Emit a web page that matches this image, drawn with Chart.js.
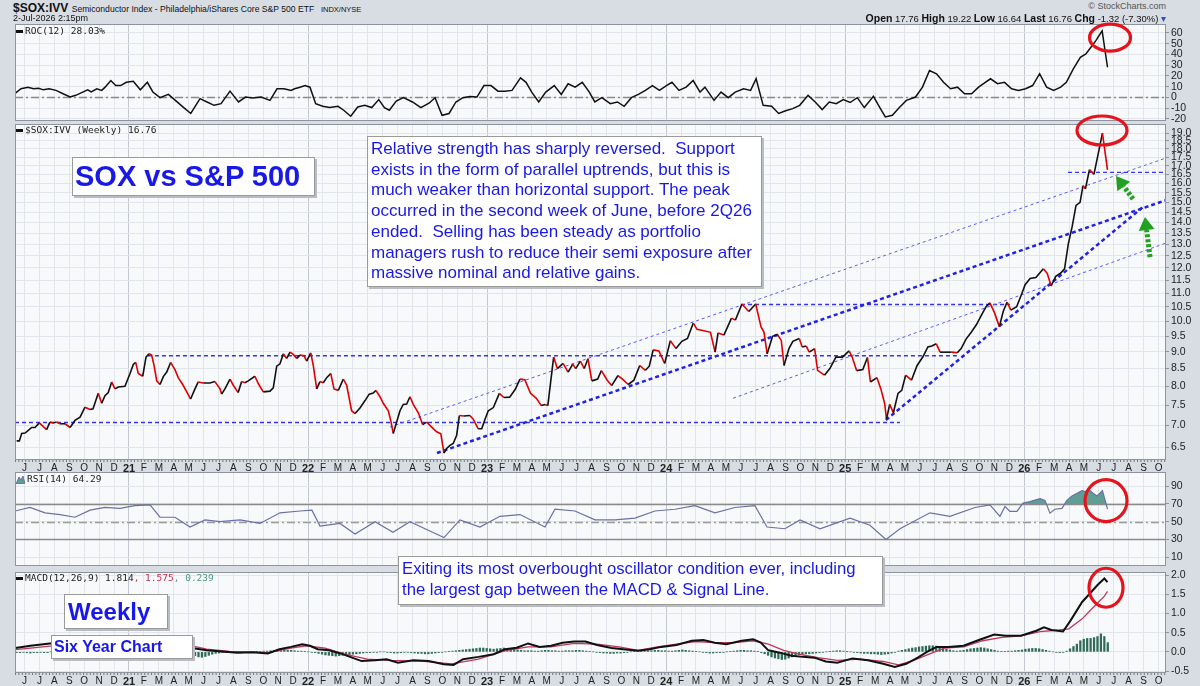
<!DOCTYPE html>
<html>
<head>
<meta charset="utf-8">
<script src="https://cdn.jsdelivr.net/npm/chart.js@4.4.1/dist/chart.umd.min.js"></script>
<style>
  body { margin: 0; background: #d8dce3; font-family: "Liberation Sans", Arial, sans-serif; }
  #wrap { position: relative; width: 1200px; height: 686px; overflow: hidden; }
  canvas { position: absolute; left: 0; }
  .txt { position: absolute; white-space: nowrap; color: #111; }
  .leg { position: absolute; white-space: nowrap; font: 9.5px "DejaVu Sans Mono", monospace; color: #222; line-height: 12px; }
  .mark { display: inline-block; width: 7px; height: 3px; background: #111; vertical-align: middle; margin-right: 2px; }
  .box { position: absolute; background: #fff; border: 1px solid #9a9a9a; box-shadow: 2px 2px 0 #b9bcc2; color: #1818e8; white-space: nowrap; }
</style>
</head>
<body>
<div id="wrap">
  <canvas id="roc" width="1200" height="105" style="top:20px"></canvas>
  <canvas id="main" width="1200" height="363" style="top:110px"></canvas>
  <canvas id="rsi" width="1200" height="94" style="top:472px"></canvas>
  <canvas id="macd" width="1200" height="126" style="top:560px"></canvas>

  <!-- header -->
  <div class="txt" style="left:13px;top:1px;font-size:12px;font-weight:bold;">$SOX:IVV <span style="font-weight:normal;font-size:8.6px">Semiconductor Index - Philadelphia/iShares Core S&amp;P 500 ETF</span>&nbsp; <span style="font-weight:normal;font-size:7.5px">INDX/NYSE</span></div>
  <div class="txt" style="left:13px;top:13px;font-size:9px;">2-Jul-2026 2:15pm</div>
  <div class="txt" style="right:34px;top:1px;font-size:9px;color:#555;">&copy; StockCharts.com</div>
  <div class="txt" style="right:34px;top:12px;font-size:9.5px;"><b style="font-size:10.5px">Open</b> 17.76 <b style="font-size:10.5px">High</b> 19.22 <b style="font-size:10.5px">Low</b> 16.64 <b style="font-size:10.5px">Last</b> 16.76 <b style="font-size:10.5px">Chg</b> -1.32 (-7.30%) <span style="color:#3050c0">&#9662;</span></div>

  <!-- panel legends -->
  <div class="leg" style="left:16px;top:25px;"><i class="mark"></i>ROC(12) 28.03%</div>
  <div class="leg" style="left:16px;top:124px;"><i class="mark"></i>$SOX:IVV (Weekly) 16.76</div>
  <div class="leg" style="left:16px;top:473px;"><svg width="9" height="9" style="vertical-align:middle;margin-right:2px"><polygon points="0,9 3,2 5,5 7,1 9,9" fill="#5f9e94" stroke="#6b70a6" stroke-width="1"/></svg>RSI(14) 64.29</div>
  <div class="leg" style="left:16px;top:572px;"><i class="mark"></i>MACD(12,26,9) 1.814<span style="color:#c0304e">, 1.575</span><span style="color:#4e9c86">, 0.239</span></div>

  <!-- annotations -->
  <div class="box" style="left:72px;top:157px;width:239px;height:37px;font-size:29px;font-weight:bold;line-height:37px;padding-left:2px;">SOX vs S&amp;P 500</div>
  <div class="box" style="left:367px;top:136px;width:387px;height:145px;font-size:17px;line-height:20.7px;padding:2px 3px;">Relative strength has sharply reversed.&nbsp; Support<br>exists in the form of parallel uptrends, but this is<br>much weaker than horizontal support. The peak<br>occurred in the second week of June, before 2Q26<br>ended.&nbsp; Selling has been steady as portfolio<br>managers rush to reduce their semi exposure after<br>massive nominal and relative gains.</div>
  <div class="box" style="left:398px;top:556px;width:477px;height:45px;font-size:16.7px;line-height:21px;padding:1px 3px;">Exiting its most overbought oscillator condition ever, including<br>the largest gap between the MACD &amp; Signal Line.</div>
  <div class="box" style="left:64px;top:594px;width:99px;height:33px;font-size:24px;font-weight:bold;line-height:33px;padding-left:3px;">Weekly</div>
  <div class="box" style="left:51px;top:635px;width:138px;height:22px;font-size:16px;font-weight:bold;line-height:22px;padding-left:2px;">Six Year Chart</div>
</div>

<script>
/* -----------------------------------------------------------
   DATA  (x = months since Jan 2020)
------------------------------------------------------------*/
const monthLetters = ["J", "F", "M", "A", "M", "J", "J", "A", "S", "O", "N", "D"];
const firstMonth = 5;   // first labelled month (Jun 2020)
const lastMonth = 81;   // last labelled month (Oct 2026)
const X_MIN = 4.36;
const X_MAX = 81.5;

// weekly SOX:IVV ratio
const priceX = [
  4.47, 4.65, 4.81, 5.03, 5.25, 5.48, 5.70, 5.99, 6.26, 6.48,
  6.70, 6.91, 7.15, 7.38, 7.71, 8.05, 8.38, 8.72, 9.05, 9.39,
  9.59, 9.94, 10.17, 10.39, 10.61, 10.84, 11.06, 11.28, 11.73, 12.07,
  12.29, 12.45, 12.62, 12.92, 13.14, 13.34, 13.52, 13.68, 13.86, 14.08,
  14.30, 14.53, 14.79, 15.08, 15.30, 15.60, 15.87, 16.13, 16.42, 16.64,
  16.98, 17.43, 17.76, 18.10, 18.21, 18.43, 18.77, 18.99, 19.32, 19.55,
  19.77, 19.99, 20.44, 20.67, 21.00, 21.45, 21.67, 21.90, 22.12, 22.34,
  22.57, 22.79, 23.01, 23.24, 23.46, 23.73, 23.91, 24.18, 24.35, 24.58,
  24.80, 25.02, 25.25, 25.52, 25.74, 26.03, 26.36, 26.59, 26.92, 27.15,
  27.48, 27.82, 28.10, 28.37, 28.55, 28.82, 29.04, 29.38, 29.54, 29.71,
  29.94, 30.16, 30.38, 30.61, 30.83, 31.05, 31.39, 31.68, 31.95, 32.29,
  32.62, 32.90, 33.11, 33.29, 33.51, 33.73, 33.96, 34.14, 34.45, 34.85,
  35.07, 35.41, 35.64, 35.86, 36.08, 36.42, 36.82, 37.12, 37.51, 37.89,
  38.20, 38.53, 38.91, 39.30, 39.63, 39.89, 40.07, 40.46, 40.71, 41.09,
  41.43, 41.74, 41.94, 42.25, 42.51, 42.76, 43.02, 43.41, 43.66, 44.05,
  44.35, 44.77, 45.07, 45.46, 45.84, 46.23, 46.61, 46.87, 47.13, 47.51,
  47.90, 48.28, 48.66, 49.05, 49.43, 49.82, 50.07, 50.46, 50.97, 51.28,
  51.48, 51.87, 52.38, 52.64, 53.08, 53.54, 54.00, 54.36, 54.56, 54.77,
  55.13, 55.46, 55.72, 55.90, 56.23, 56.49, 56.92, 57.12, 57.39, 57.59,
  57.95, 58.15, 58.61, 58.97, 59.38, 59.82, 60.26, 60.46, 60.77, 61.18,
  61.49, 61.69, 62.13, 62.39, 62.64, 62.77, 62.98, 63.23, 63.54, 63.79,
  64.05, 64.44, 64.82, 65.21, 65.54, 65.80, 66.11, 66.36, 66.74, 67.13,
  67.51, 67.77, 68.10, 68.46, 68.80, 69.13, 69.44, 69.70, 70.01, 70.33,
  70.59, 70.85, 71.10, 71.49, 71.80, 72.06, 72.39, 72.78, 73.28, 73.54,
  73.80, 74.11, 74.43, 74.70, 74.95, 75.21, 75.47, 75.74, 75.94, 76.10,
  76.37, 76.67, 77.00, 77.24, 77.58
];
const priceY = [
  6.64, 6.64, 6.81, 6.82, 6.88, 6.95, 6.95, 7.06, 6.97, 6.90,
  7.08, 7.06, 7.08, 7.04, 7.04, 6.95, 7.12, 7.20, 7.45, 7.39,
  7.41, 7.81, 7.55, 7.75, 7.83, 8.12, 7.93, 7.98, 8.00, 8.36,
  8.62, 8.68, 8.36, 8.28, 8.84, 8.94, 8.90, 8.59, 8.15, 8.05,
  8.27, 8.40, 8.68, 8.47, 8.24, 8.05, 7.85, 7.66, 7.93, 8.12,
  8.09, 8.09, 8.13, 7.93, 7.79, 7.93, 8.20, 8.03, 7.83, 8.13,
  8.10, 8.15, 8.28, 8.07, 7.85, 7.87, 7.96, 8.57, 8.64, 8.94,
  8.80, 8.99, 8.92, 8.80, 8.90, 8.88, 8.72, 8.97, 8.59, 7.93,
  8.13, 8.10, 8.24, 8.36, 7.93, 7.89, 8.20, 8.03, 7.36, 7.29,
  7.43, 7.62, 7.79, 7.82, 7.89, 7.72, 7.55, 7.36, 7.12, 6.81,
  7.08, 7.36, 7.52, 7.53, 7.72, 7.52, 7.31, 7.02, 7.08, 6.96,
  6.85, 6.80, 6.37, 6.47, 6.54, 6.58, 6.77, 7.24, 7.23, 7.24,
  7.15, 6.92, 6.92, 7.15, 7.36, 7.44, 7.81, 7.70, 7.71, 7.92,
  8.20, 8.18, 7.81, 7.68, 7.49, 7.52, 7.49, 8.84, 8.50, 8.65,
  8.40, 8.63, 8.50, 8.72, 8.50, 8.79, 8.15, 8.20, 8.44, 8.17,
  8.02, 8.30, 8.20, 8.05, 8.17, 8.59, 8.45, 8.57, 9.06, 9.03,
  8.65, 9.35, 9.10, 9.33, 9.42, 9.93, 9.72, 9.68, 9.62, 8.99,
  9.60, 9.53, 10.10, 10.03, 10.60, 10.33, 10.60, 9.80, 9.62, 8.94,
  9.49, 9.55, 9.35, 8.59, 9.10, 9.33, 9.42, 9.15, 9.18, 8.99,
  9.10, 8.45, 8.31, 8.50, 8.84, 8.84, 9.03, 8.85, 8.44, 8.47,
  8.83, 8.12, 8.24, 7.93, 7.55, 7.15, 7.52, 7.31, 7.81, 7.89,
  8.31, 8.17, 8.59, 8.85, 9.15, 9.18, 9.25, 8.99, 8.99, 8.99,
  8.97, 9.10, 9.40, 9.63, 9.88, 10.20, 10.50, 10.64, 10.28, 9.81,
  10.33, 10.67, 10.38, 10.50, 10.93, 11.32, 11.56, 11.60, 11.95, 11.77,
  11.27, 11.65, 11.77, 11.95, 13.00, 13.80, 14.84, 15.00, 15.88, 15.71,
  16.77, 16.50, 17.90, 19.00, 16.76
];

// ROC(12)
const rocX = [
  4.39, 4.76, 5.23, 5.61, 5.94, 6.27, 6.64, 7.11, 7.58, 8.05,
  8.43, 8.90, 9.23, 9.47, 9.84, 10.17, 10.40, 10.78, 11.11, 11.44,
  11.82, 12.29, 12.76, 13.23, 13.60, 14.08, 14.64, 15.11, 15.67, 16.14,
  16.76, 17.23, 17.70, 18.17, 18.77, 19.34, 19.81, 20.28, 20.85, 21.45,
  21.92, 22.39, 22.86, 23.10, 23.46, 23.80, 24.13, 24.51, 24.98, 25.45,
  26.01, 26.39, 26.86, 27.33, 27.80, 28.27, 28.74, 29.12, 29.45, 29.91,
  30.39, 31.00, 31.56, 32.13, 32.51, 32.98, 33.45, 33.91, 34.38, 34.85,
  35.32, 35.79, 36.26, 36.73, 37.20, 37.67, 38.24, 38.61, 38.99, 39.46,
  39.93, 40.50, 40.97, 41.43, 41.90, 42.38, 42.85, 43.22, 43.69, 44.26,
  44.73, 45.19, 45.67, 46.14, 46.61, 47.08, 47.55, 48.02, 48.39, 48.86,
  49.34, 49.81, 50.27, 50.60, 51.21, 51.68, 52.16, 52.63, 53.19, 53.66,
  54.03, 54.50, 55.07, 55.54, 56.01, 56.48, 56.95, 57.51, 57.99, 58.46,
  58.93, 59.40, 59.87, 60.33, 60.81, 61.28, 61.89, 62.36, 62.69, 63.16,
  63.63, 64.10, 64.71, 65.18, 65.65, 66.12, 66.59, 67.06, 67.53, 68.00,
  68.47, 68.94, 69.27, 69.74, 70.21, 70.68, 71.15, 71.62, 72.09, 72.56,
  73.03, 73.50, 73.97, 74.44, 74.82, 75.29, 75.76, 76.13, 76.47, 76.80,
  77.22, 77.58
];
const rocY = [
  4.0, 8, 9.5, 8, 8.5, 7, 8, 6.5, 3.4, 0.3,
  1.9, 4.9, 7, 5, 8, 6.5, 9.5, 15.7, 11, 11,
  14, 15, 7, 14, 5, -0.3, 2.8, -2.8, -9.5, -15,
  -1.2, -4.3, -7.4, -5.9, 5.8, -4.3, 0.3, -0.5, 0.3, -2.8,
  8, 8, 6.5, 8, 9.5, 11, 9.5, -5.9, -8.3, -9.5,
  -8.3, -12, -17.6, -9, -7.4, -9.5, -2.1, -9.5, -12, -3.4,
  -0.3, -4.3, -9.5, -5.2, -0.3, -16.7, -15, -4.3, -0.3, 0.9,
  0.3, 11, 11, 5.8, 5.8, 6.5, 18.2, 14, 4.9, -4.3,
  4.9, 11, 2.8, 12.7, 9.5, 14, 4.9, -4.3, -0.3, -5.9,
  -4.3, -8.3, -0.3, 2.8, 6.5, 11, 6.5, 11, 14, 6.5,
  9.5, 15.7, 4.9, 9.5, -2.8, 4.9, -0.3, 4.9, 8, 6.5,
  17.3, -7.4, -8.3, -15, -12.4, -10.5, -7.4, 1.9, -4.3, -11.4,
  -4.3, -5.9, -2.1, -4.8, -0.3, -9.5, 1.0, -10.5, -18.2, -16.7,
  -9.5, -2.8, 0.3, 9.5, 25, 22, 14, 8, 9.5, 3.4,
  3.4, 9.5, 12.7, 17.3, 12.7, 14, 8, 6.5, 8, 11,
  22, 9.5, 6.5, 9.5, 14, 26.6, 37.3, 40.4, 46.6, 52.8,
  62, 28.03
];

// RSI(14)
const rsiX = [
  4.36, 5.36, 6.37, 7.38, 8.38, 9.39, 10.39, 11.40, 12.40, 13.41,
  14.08, 15.08, 16.09, 17.09, 18.10, 19.44, 20.78, 22.12, 23.46, 24.26,
  24.80, 26.14, 27.15, 28.49, 29.69, 30.83, 31.84, 33.11, 34.18, 35.52,
  36.86, 38.20, 39.88, 40.55, 41.89, 43.23, 44.57, 45.91, 47.25, 48.59,
  49.93, 51.27, 52.61, 53.95, 54.76, 55.96, 56.97, 58.31, 60.32, 61.66,
  62.73, 63.67, 65.68, 67.02, 68.70, 69.70, 70.37, 70.71, 71.04, 71.51,
  71.92, 72.39, 73.06, 73.39, 73.72, 74.06, 74.53, 74.86, 75.20, 75.54,
  75.87, 76.07, 76.34, 76.61, 76.88, 77.24, 77.58
];
const rsiY = [
  62, 66, 60, 58, 55, 63, 66, 65, 68, 69,
  55, 55, 44, 52, 50, 52, 48, 60, 62, 63,
  45, 48, 36, 50, 38, 50, 42, 32, 52, 44,
  56, 58, 44, 64, 62, 52, 52, 54, 62, 64,
  68, 60, 66, 68, 44, 42, 52, 42, 54, 46,
  30, 42, 60, 56, 66, 69, 56, 67, 61.6, 61.6,
  71, 72.6, 76, 74, 59.6, 64, 65, 74, 79, 82,
  85, 84, 86, 82, 79, 85, 64.29
];

// MACD(12,26,9) line and signal
const macdX = [
  4.38, 5.40, 6.69, 8.72, 10.73, 12.07, 13.41, 14.75, 16.18, 17.21,
  18.23, 19.26, 20.28, 21.31, 22.08, 22.85, 23.61, 24.13, 24.65, 25.41,
  26.18, 26.95, 27.59, 28.49, 29.26, 30.03, 31.05, 32.08, 33.10, 33.75,
  34.39, 35.42, 36.44, 37.21, 37.98, 38.75, 39.52, 40.29, 41.06, 41.83,
  42.59, 43.37, 44.34, 45.11, 46.13, 46.90, 47.67, 48.69, 49.72, 50.49,
  51.26, 52.03, 53.06, 53.83, 54.34, 54.85, 55.62, 56.39, 57.16, 57.93,
  58.70, 59.47, 60.49, 61.52, 62.55, 63.32, 64.09, 64.86, 65.62, 66.14,
  66.91, 67.93, 68.96, 69.99, 70.76, 71.78, 72.81, 73.32, 73.83, 74.60,
  75.11, 75.88, 76.40, 76.91, 77.37, 77.58
];
const macdY = [
  0.10, 0.16, 0.22, 0.25, 0.28, 0.32, 0.33, 0.25, 0.10, 0.04,
  0.01, -0.02, -0.01, -0.04, 0.07, 0.13, 0.20, 0.16, 0.07, 0.04,
  -0.04, -0.15, -0.24, -0.22, -0.19, -0.28, -0.22, -0.24, -0.32, -0.34,
  -0.19, -0.13, -0.06, 0.07, 0.11, 0.22, 0.13, 0.16, 0.24, 0.27,
  0.27, 0.18, 0.10, 0.07, 0.03, 0.07, 0.13, 0.18, 0.29, 0.31,
  0.24, 0.20, 0.29, 0.33, 0.24, 0.04, -0.02, -0.10, -0.13, -0.15,
  -0.25, -0.28, -0.17, -0.22, -0.31, -0.39, -0.31, -0.15, 0.03, 0.13,
  0.13, 0.16, 0.31, 0.45, 0.42, 0.42, 0.55, 0.64, 0.57, 0.53,
  0.82, 1.30, 1.52, 1.74, 1.91, 1.814
];
const signalX = [
  4.38, 5.40, 6.69, 8.72, 10.73, 12.07, 13.41, 14.75, 16.15, 17.21,
  18.74, 21.31, 22.85, 23.86, 25.14, 26.44, 27.98, 29.52, 31.57, 33.62,
  35.42, 37.21, 38.75, 40.28, 41.82, 43.37, 44.84, 46.13, 47.41, 48.69,
  49.98, 51.26, 52.55, 53.83, 54.85, 55.88, 56.90, 58.18, 59.47, 61.00,
  62.55, 63.57, 64.60, 65.62, 66.65, 67.93, 69.21, 70.50, 71.78, 73.06,
  74.34, 74.99, 75.88, 76.65, 77.37, 77.58
];
const signalY = [
  0.06, 0.10, 0.15, 0.20, 0.24, 0.27, 0.30, 0.26, 0.16, 0.07,
  0.01, -0.02, 0.10, 0.16, 0.10, -0.06, -0.19, -0.22, -0.24, -0.31,
  -0.19, 0.03, 0.13, 0.13, 0.22, 0.20, 0.13, 0.04, 0.13, 0.20,
  0.27, 0.24, 0.24, 0.29, 0.20, 0.04, -0.06, -0.15, -0.22, -0.19,
  -0.25, -0.34, -0.22, -0.06, 0.10, 0.13, 0.29, 0.38, 0.42, 0.53,
  0.57, 0.60, 0.86, 1.17, 1.45, 1.575
];

// MACD histogram, one bar per week
const histStart = 4.47;
const weekStep = 7 / 30.44;
const histY = [
  -0.02, -0.02, -0.01, -0.02, -0.03, -0.02, -0.02, -0.01, -0.02, -0.02,
  0, 0.01, 0.02, 0.03, 0.04, 0.05, 0.06, 0.07, 0.07, 0.06,
  0.05, 0.04, 0.03, 0.03, 0.04, 0.05, 0.06, 0.06, 0.05, 0.04,
  0.03, 0.02, 0.02, 0.03, 0.04, 0.04, 0.03, 0.02, 0.01, 0,
  -0.01, -0.02, -0.03, -0.04, -0.05, -0.05, -0.04, -0.03, -0.02, -0.03,
  -0.04, -0.06, -0.1, -0.13, -0.14, -0.12, -0.09, -0.06,
  -0.04, -0.03, -0.02, -0.02, -0.01, -0.01, 0, 0.01, 0, -0.01, -0.01, 0, 0.01, 0.01, 0.02, 0.02,
  0.03, 0.04, 0.05, 0.05, 0.05, 0.04, 0.04, 0.03, 0.02, 0.02, 0.01, 0, -0.01, -0.02,
  -0.04, -0.06, -0.08, -0.09, -0.1, -0.11, -0.1, -0.09, -0.08, -0.07, -0.06, -0.05, -0.04, -0.03, -0.02, -0.02,
  -0.01, -0.01, 0, 0, -0.01, -0.02, -0.03, -0.03, -0.02, -0.01, -0.01, -0.02, -0.03,
  -0.04, -0.04, -0.05, -0.05, -0.04, -0.03, -0.02, -0.01, 0, 0.01, 0.02, 0.03, 0.04,
  0.05, 0.06, 0.07, 0.08, 0.09, 0.1, 0.1, 0.09, 0.08, 0.07, 0.08, 0.09, 0.1, 0.09, 0.08, 0.06, 0.05, 0.04, 0.03, 0.03,
  0.03, 0.02, 0.02, 0.03, 0.04, 0.04, 0.03, 0.03, 0.02, 0.02, 0.03, 0.03, 0.03, 0.04, 0.04, 0.03, 0.02, 0.01, 0, -0.01, -0.02,
  -0.03, -0.03, -0.04, -0.04, -0.03, -0.03, -0.02, -0.01, 0, 0.01, 0.02, 0.02, 0.03, 0.03,
  0.03, 0.04, 0.04, 0.03, 0.03, 0.02, 0.02, 0.03, 0.04, 0.05, 0.04, 0.03, 0.02, 0.01, 0,
  -0.01, -0.02, -0.03, -0.03, -0.02, -0.02, -0.01, 0, 0.01, 0.02, 0.03,
  0.04, 0.04, 0.03, 0.03, 0.02, 0.01, -0.02, -0.05,
  -0.09, -0.13, -0.16, -0.18, -0.2, -0.19, -0.16, -0.13, -0.1, -0.08,
  -0.06, -0.05, -0.05, -0.04, -0.03, -0.02, -0.01, 0, 0.01,
  0.02, 0.03, 0.03, 0.02, 0.01, 0, -0.01, -0.02, -0.03,
  -0.04, -0.04, -0.05, -0.05, -0.06, -0.07, -0.06, -0.05, -0.03, -0.01, 0.02, 0.04, 0.06,
  0.08, 0.1, 0.11, 0.13, 0.14, 0.15, 0.16, 0.16, 0.15, 0.13, 0.1, 0.07, 0.05, 0.03,
  0.02, 0.03, 0.04, 0.06, 0.08, 0.09, 0.1, 0.11, 0.1, 0.08, 0.06, 0.04, 0.02,
  0.01, 0.01, 0.02, 0.02, 0.03, 0.04,
  0.05, 0.07, 0.08, 0.09, 0.09, 0.08, 0.06, 0.04, 0.02,
  0, -0.01, -0.02, -0.01, 0.02,
  0.08, 0.14, 0.2, 0.29, 0.33, 0.35, 0.35, 0.37, 0.4, 0.47, 0.4, 0.24
];

// right-hand axis ticks
const rocTicks = [-20, -10, 0, 10, 20, 30, 40, 50, 60];
const priceTicks = [6.5, 7, 7.5, 8, 8.5, 9, 9.5, 10, 10.5, 11, 11.5, 12, 12.5, 13, 13.5,
  14, 14.5, 15, 15.5, 16, 16.5, 17, 17.5, 18, 18.5, 19];
const rsiTicks = [10, 30, 50, 70, 90];
const macdTicks = [-0.5, 0, 0.5, 1, 1.5, 2];

/* -----------------------------------------------------------
   ANNOTATIONS (data coordinates)
------------------------------------------------------------*/
const flatLines = [
  { from: 13.27, to: 67.69, y: 8.88 },
  { from: 4.36, to: 63.67, y: 7.07 },
  { from: 53.02, to: 71.04, y: 10.58 },
  { from: 74.93, to: 81.5, y: 16.61 }
];
const thinLines = [
  { x1: 29.49, y1: 6.96, x2: 81.5, y2: 17.45 },
  { x1: 52.48, y1: 7.68, x2: 81.5, y2: 13.05 }
];
const thickLines = [
  { x1: 32.64, y1: 6.37, x2: 81.5, y2: 15.11 },
  { x1: 62.73, y1: 7.13, x2: 79.96, y2: 14.76 }
];
const greenArrows = [
  { x1: 79.29, y1: 15.17, x2: 78.15, y2: 16.41 },
  { x1: 80.43, y1: 12.44, x2: 80.09, y2: 14.26 }
];

[[priceX, priceY, "price"], [rocX, rocY, "roc"], [rsiX, rsiY, "rsi"],
 [macdX, macdY, "macd"], [signalX, signalY, "signal"]].forEach(([a, b, n]) => {
  if (a.length !== b.length) throw new Error(n + " length " + a.length + " vs " + b.length);
});

/* -----------------------------------------------------------
   HELPERS
------------------------------------------------------------*/
Chart.defaults.font.family = "'Liberation Sans', Arial, sans-serif";

const pts = (xs, ys) => xs.map((x, i) => ({ x, y: ys[i] }));
const isYear = (c) => c.tick && c.tick.value % 12 === 0;

const frame = {
  id: "frame",
  beforeDraw(c) {
    const a = c.chartArea, g = c.ctx;
    g.save();
    g.fillStyle = "#f8f9fb";
    g.fillRect(a.left, a.top, a.width, a.height);
    g.restore();
  },
  afterDatasetsDraw(c) {
    const a = c.chartArea, g = c.ctx;
    g.save();
    g.strokeStyle = "#8e949e";
    g.lineWidth = 1;
    g.strokeRect(a.left + 0.5, a.top + 0.5, a.width - 1, a.height - 1);
    g.restore();
  }
};

// dotted weekly tick row under the panels that carry date labels
const weekTicks = {
  id: "weekTicks",
  afterDraw(c) {
    const a = c.chartArea, g = c.ctx;
    g.save();
    g.strokeStyle = "#777"; g.lineWidth = 2; g.setLineDash([1, 2.4]);
    g.beginPath(); g.moveTo(a.left, a.bottom + 1); g.lineTo(a.right, a.bottom + 1); g.stroke();
    g.restore();
  }
};

function xScale(showLabels) {
  return {
    type: "linear", min: X_MIN, max: X_MAX, offset: false,
    afterBuildTicks: (s) => {
      const t = [];
      for (let m = firstMonth; m <= lastMonth; m++) t.push({ value: m });
      s.ticks = t;
    },
    afterFit: (s) => { s.height = showLabels ? 13 : 0; s.paddingLeft = 0; s.paddingRight = 0; },
    grid: { color: (c) => (isYear(c) ? "#c3c8d0" : "#e2e5eb"), drawTicks: false, offset: false },
    border: { display: false },
    ticks: {
      display: showLabels, autoSkip: false, maxRotation: 0, minRotation: 0, padding: 2, color: "#222",
      font: (c) => ({ size: isYear(c) ? 11 : 10, weight: isYear(c) ? "bold" : "normal" }),
      callback: (v) => (v % 12 === 0 ? String(2020 + v / 12).slice(2) : monthLetters[v % 12])
    }
  };
}

function yScale(type, min, max, ticks, fmt) {
  return {
    type, position: "right", min, max,
    afterBuildTicks: (s) => { s.ticks = ticks.map((v) => ({ value: v })); },
    afterFit: (s) => { s.width = 34; s.paddingTop = 0; s.paddingBottom = 0; },
    grid: { color: "#e2e5eb", drawTicks: true, tickLength: 3, tickColor: "#8e949e" },
    border: { display: false },
    ticks: { autoSkip: false, padding: 2, color: "#222", font: { size: 10.5 }, callback: fmt }
  };
}

// horizontal reference lines (zero line, RSI bands)
function refLines(lines) {
  return {
    id: "refs",
    beforeDatasetsDraw(c) {
      const g = c.ctx, a = c.chartArea;
      g.save();
      lines.forEach((l) => {
        const y = Math.round(c.scales.y.getPixelForValue(l.y)) + 0.5;
        g.strokeStyle = l.color; g.lineWidth = l.width; g.setLineDash(l.dash);
        g.beginPath(); g.moveTo(a.left, y); g.lineTo(a.right, y); g.stroke();
      });
      g.restore();
    }
  };
}

// red rings drawn over a panel
function ring(spec) {
  return {
    id: "ring",
    afterDraw(c) {
      const g = c.ctx;
      const cx = c.scales.x.getPixelForValue(spec.x), cy = c.scales.y.getPixelForValue(spec.y);
      g.save();
      g.strokeStyle = "#e5141c"; g.lineWidth = 3.2;
      g.beginPath(); g.ellipse(cx, cy, spec.rx, spec.ry, 0, 0, Math.PI * 2); g.stroke();
      g.restore();
    }
  };
}

function arrow(g, x1, y1, x2, y2) {
  const ang = Math.atan2(y2 - y1, x2 - x1), head = 13, half = 8;
  const bx = x2 - head * Math.cos(ang), by = y2 - head * Math.sin(ang);
  g.strokeStyle = g.fillStyle = "#22a022";
  g.lineWidth = 5; g.setLineDash([3, 2]);
  g.beginPath(); g.moveTo(x1, y1); g.lineTo(bx, by); g.stroke();
  g.setLineDash([]);
  g.beginPath(); g.moveTo(x2, y2);
  g.lineTo(bx + half * Math.sin(ang), by - half * Math.cos(ang));
  g.lineTo(bx - half * Math.sin(ang), by + half * Math.cos(ang));
  g.closePath(); g.fill();
}

const trendPlugin = {
  id: "trend",
  beforeDatasetsDraw(c) {
    const g = c.ctx, a = c.chartArea, X = c.scales.x, Y = c.scales.y;
    g.save();
    g.beginPath(); g.rect(a.left, a.top, a.width, a.height); g.clip();
    const seg = (x1, y1, x2, y2, color, w, dash) => {
      g.strokeStyle = color; g.lineWidth = w; g.setLineDash(dash);
      g.beginPath();
      g.moveTo(X.getPixelForValue(x1), Y.getPixelForValue(y1));
      g.lineTo(X.getPixelForValue(x2), Y.getPixelForValue(y2));
      g.stroke();
    };
    flatLines.forEach((l) => seg(l.from, l.y, l.to, l.y, "#3434f0", 1.3, [4, 3]));
    thinLines.forEach((l) => seg(l.x1, l.y1, l.x2, l.y2, "#5c5cf2", 1, [3, 3]));
    thickLines.forEach((l) => seg(l.x1, l.y1, l.x2, l.y2, "#2222e4", 2.5, [4, 3]));
    g.restore();
  },
  afterDraw(c) {
    const g = c.ctx, X = c.scales.x, Y = c.scales.y;
    g.save();
    greenArrows.forEach((r) => arrow(g, X.getPixelForValue(r.x1), Y.getPixelForValue(r.y1),
      X.getPixelForValue(r.x2), Y.getPixelForValue(r.y2)));
    g.restore();
  }
};

function makePanel(id, cfg) {
  return new Chart(document.getElementById(id), {
    type: "line",
    data: { datasets: cfg.datasets },
    options: {
      responsive: false, animation: false, devicePixelRatio: 1,
      layout: { padding: { left: 15, right: 0, top: cfg.padTop || 0, bottom: cfg.padBottom || 0 } },
      plugins: { legend: { display: false }, tooltip: { enabled: false } },
      elements: { point: { radius: 0 }, line: { tension: 0 } },
      scales: { x: xScale(cfg.labels), y: cfg.y }
    },
    plugins: [frame].concat(cfg.labels ? [weekTicks] : [], cfg.plugins || [])
  });
}

/* -----------------------------------------------------------
   PANELS
------------------------------------------------------------*/
makePanel("roc", {
  padTop: 4,
  padBottom: 4,
  labels: false,
  y: yScale("linear", -22, 68.3, rocTicks, (v) => String(v)),
  datasets: [{ data: pts(rocX, rocY), borderColor: "#111", borderWidth: 1.5 }],
  plugins: [refLines([{ y: 0, color: "#8a8a8a", width: 1.5, dash: [8, 3, 2, 3] }]),
    ring({ x: 77.75, y: 55.6, rx: 20.5, ry: 13.5 })]
});

makePanel("main", {
  padTop: 14,
  labels: true,
  y: yScale("logarithmic", 6.22, 19.6, priceTicks, (v) => Number(v).toFixed(1)),
  datasets: [{
    data: pts(priceX, priceY), borderColor: "#111", borderWidth: 1.6,
    segment: { borderColor: (c) => (c.p1.parsed.y < c.p0.parsed.y ? "#e00000" : "#111") }
  }],
  plugins: [trendPlugin, ring({ x: 77.21, y: 19.17, rx: 25, ry: 14.5 })]
});

makePanel("rsi", {
  labels: false,
  y: yScale("linear", 0, 106, rsiTicks, (v) => String(v)),
  datasets: [{
    data: pts(rsiX, rsiY), borderColor: "#6b70a6", borderWidth: 1.2,
    fill: { target: { value: 70 }, above: "#5f9e94", below: "rgba(0,0,0,0)" }
  }],
  plugins: [refLines([
    { y: 70, color: "#8a8a8a", width: 1.3, dash: [] },
    { y: 30, color: "#8a8a8a", width: 1.3, dash: [] },
    { y: 50, color: "#9a9a9a", width: 1.3, dash: [8, 3, 2, 3] }
  ]), ring({ x: 77.48, y: 73.7, rx: 21, ry: 21 })]
});

makePanel("macd", {
  padTop: 12,
  labels: true,
  y: yScale("linear", -0.55, 2.08, macdTicks, (v) => Number(v).toFixed(1)),
  datasets: [
    { data: pts(macdX, macdY), borderColor: "#111", borderWidth: 2 },
    { data: pts(signalX, signalY), borderColor: "#c0385a", borderWidth: 1.3 },
    {
      type: "bar", data: histY.map((y, i) => ({ x: histStart + i * weekStep, y })),
      backgroundColor: "#2e6b56", borderWidth: 0, barThickness: 1.6
    }
  ],
  plugins: [ring({ x: 77.48, y: 1.67, rx: 17, ry: 19.5 })]
});
</script>
</body>
</html>
